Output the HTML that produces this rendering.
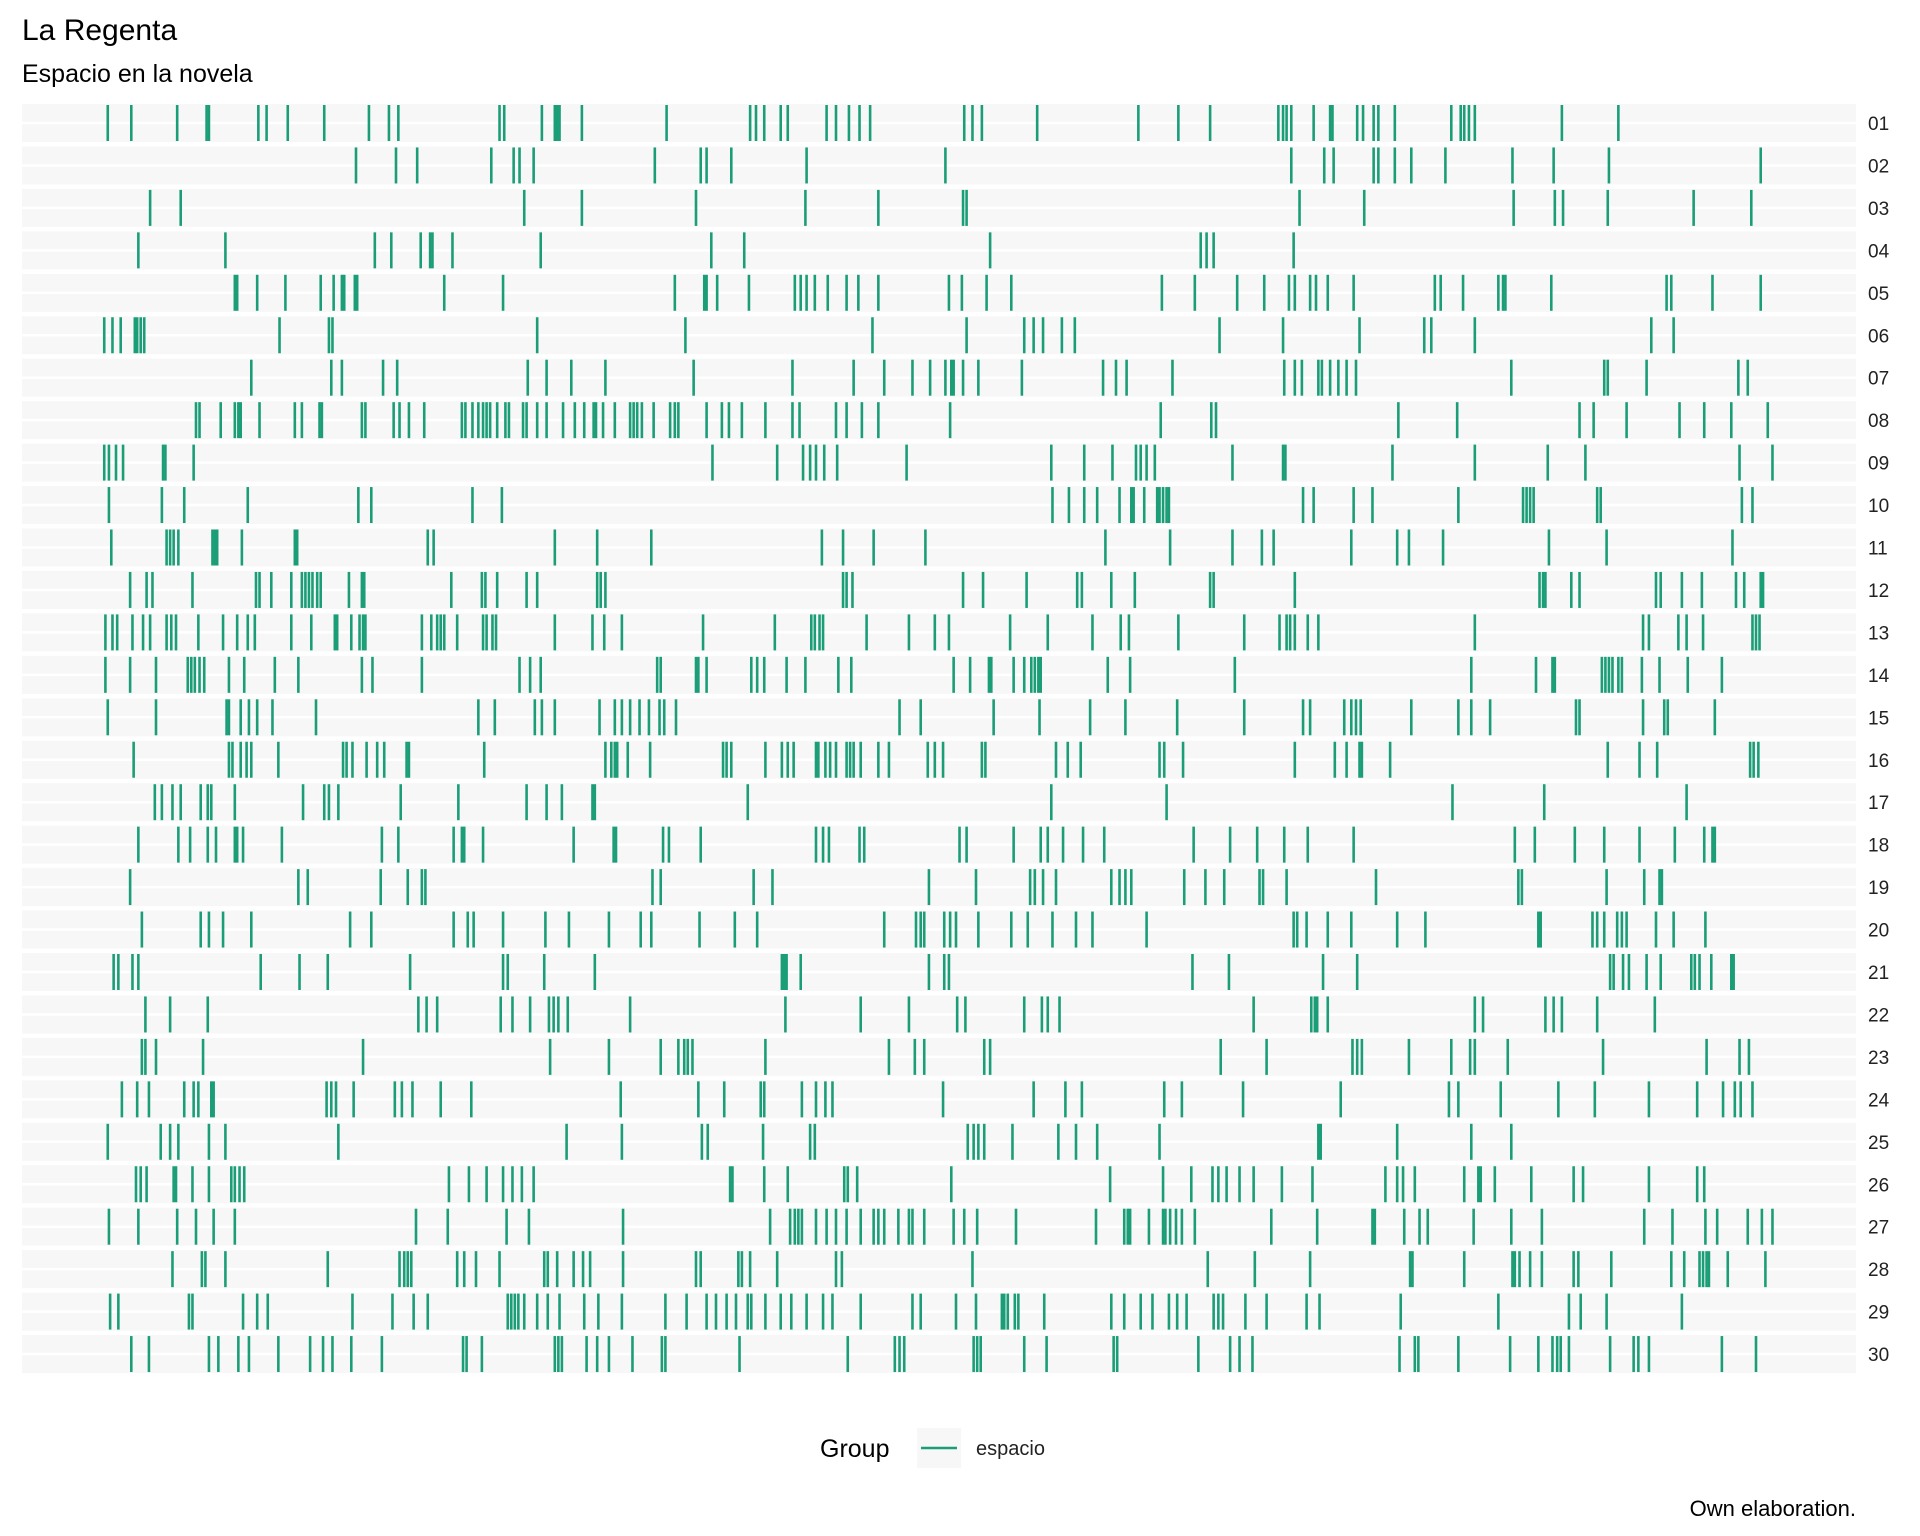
<!DOCTYPE html>
<html><head><meta charset="utf-8">
<style>
html,body{margin:0;padding:0;background:#fff;}
svg{display:block;font-family:"Liberation Sans",Arial,sans-serif;}
</style></head>
<body>
<svg id="chart" width="1920" height="1536" viewBox="0 0 1920 1536">
<text x="22" y="40" font-size="30" fill="#000">La Regenta</text>
<text x="22" y="82" font-size="25" fill="#000">Espacio en la novela</text>
<g id="rows"></g>
<g>
<text x="820" y="1457" font-size="25" fill="#000">Group</text>
<rect x="917" y="1428" width="44" height="40" fill="#f7f7f7"></rect>
<line x1="921" y1="1448" x2="957" y2="1448" stroke="#1b9e77" stroke-width="2.5"></line>
<text x="976" y="1455" font-size="20" fill="#222">espacio</text>
</g>
<text x="1856" y="1516" font-size="22" fill="#000" text-anchor="end">Own elaboration.</text>
</svg>
<script>
const chapters = ["01","02","03","04","05","06","07","08","09","10","11","12","13","14","15","16","17","18","19","20","21","22","23","24","25","26","27","28","29","30"];
const c01=[78,98,137,162,164,206,213,231,262,300,317,325,411,415,447,458,460,462,481,553,624,629,636,650,656,689,697,708,717,726,806,813,821,868,954,988,1015,1073,1077,1080,1084,1103,1117,1119,1140,1145,1154,1158,1172,1220,1228,1231,1235,1240,1314,1362];
const c02=[289,323,341,404,423,428,440,543,582,587,608,672,790,1084,1112,1120,1154,1158,1172,1186,1215,1272,1307,1354,1483];
const c03=[114,140,432,481,578,671,733,805,808,1091,1146,1273,1308,1315,1353,1426,1475];
const c04=[104,178,305,319,344,352,354,371,446,591,619,828,1007,1012,1018,1086];
const c05=[186,188,205,229,259,270,277,279,288,290,364,414,560,585,587,596,623,662,667,672,679,690,706,716,733,793,804,825,846,974,1002,1038,1061,1082,1087,1100,1105,1115,1137,1206,1211,1230,1260,1264,1266,1305,1403,1407,1442,1483];
const c06=[75,82,89,101,103,106,109,224,266,269,443,569,728,808,857,865,873,889,900,1023,1077,1142,1197,1203,1240,1390,1409];
const c07=[200,268,277,312,324,435,451,472,501,576,660,712,738,762,777,790,795,797,805,818,855,924,935,944,983,1078,1087,1093,1107,1110,1117,1124,1131,1139,1271,1350,1353,1386,1464,1472];
const c08=[153,156,174,186,189,191,207,237,243,258,260,294,297,321,326,334,347,379,382,388,393,397,400,403,409,416,419,431,434,443,451,465,475,483,491,493,499,509,522,525,528,532,542,556,560,563,587,600,606,617,637,660,666,697,706,719,733,794,973,1016,1020,1175,1225,1329,1341,1369,1414,1435,1458,1489];
const c09=[75,79,85,91,125,127,151,592,647,669,675,680,687,698,757,880,908,932,952,956,961,968,1034,1077,1079,1170,1240,1302,1334,1465,1493];
const c10=[79,124,143,197,291,302,388,413,881,895,908,919,938,948,950,959,970,972,975,978,980,1094,1103,1137,1153,1226,1281,1284,1287,1290,1344,1347,1467,1476];
const c11=[81,128,131,134,138,167,169,171,192,237,239,350,355,458,494,540,685,703,729,773,926,981,1034,1059,1069,1135,1174,1184,1213,1303,1352,1459];
const c12=[97,111,116,150,204,207,217,234,243,246,249,252,256,259,283,294,296,370,396,399,409,434,443,494,497,501,703,706,711,805,822,859,902,906,931,951,1015,1018,1087,1295,1298,1300,1322,1329,1394,1398,1416,1433,1462,1469,1483,1485];
const c13=[76,82,86,99,108,114,128,132,136,155,176,188,197,203,234,251,271,273,285,292,295,297,345,353,358,361,364,375,397,400,405,408,458,490,500,515,584,645,676,679,683,686,723,759,781,793,845,877,915,939,946,988,1044,1074,1080,1083,1087,1098,1107,1240,1383,1388,1413,1420,1434,1476,1479,1482];
const c14=[76,97,119,146,149,152,156,160,181,194,220,240,294,303,345,428,437,446,545,548,578,580,587,625,630,636,655,671,699,710,797,811,827,829,848,857,863,866,869,871,928,947,1036,1237,1292,1306,1308,1348,1351,1354,1357,1362,1365,1382,1397,1421,1450];
const c15=[78,119,179,181,191,198,205,218,255,393,407,441,447,458,496,509,515,522,530,538,547,551,561,751,769,831,870,913,943,987,1044,1094,1100,1129,1135,1139,1143,1186,1226,1237,1253,1326,1329,1383,1401,1404,1444];
const c16=[100,181,184,191,196,200,223,278,281,286,298,307,313,332,334,398,501,506,509,511,520,539,601,604,608,637,651,656,661,680,682,688,692,697,706,709,712,718,733,742,775,781,788,821,824,884,894,905,972,976,992,1087,1121,1131,1142,1144,1168,1353,1380,1395,1474,1477,1481];
const c17=[118,124,133,140,157,163,166,186,244,262,266,274,327,376,434,451,464,490,492,622,880,978,1221,1299,1420];
const c18=[104,138,148,163,170,186,188,193,226,311,325,372,379,381,397,474,508,510,550,555,582,680,686,691,717,721,802,808,848,871,877,890,907,925,1001,1032,1055,1078,1098,1137,1274,1291,1325,1350,1380,1410,1435,1442,1444];
const c19=[97,240,248,310,333,345,348,541,548,627,643,776,816,862,866,873,884,931,938,943,948,993,1011,1027,1057,1060,1080,1156,1277,1280,1352,1384,1397,1399];
const c20=[107,157,164,176,200,284,302,372,384,389,414,450,470,504,531,540,581,611,630,738,765,769,772,789,794,799,818,846,860,881,901,915,961,1086,1089,1097,1115,1135,1174,1198,1294,1296,1340,1344,1350,1361,1365,1369,1394,1409,1436];
const c21=[83,87,99,104,208,241,265,335,414,418,449,492,651,653,655,667,776,789,793,1000,1031,1111,1140,1355,1358,1366,1371,1386,1398,1424,1427,1431,1441,1458,1460];
const c22=[110,131,163,342,349,358,412,422,437,453,457,461,469,522,654,718,759,800,807,857,872,877,887,1052,1101,1104,1106,1115,1240,1247,1300,1307,1314,1344,1393];
const c23=[107,110,119,159,295,454,504,548,563,568,571,575,637,742,764,772,823,828,1024,1063,1136,1140,1144,1184,1220,1236,1240,1268,1349,1437,1465,1473];
const c24=[90,103,113,143,151,155,166,168,264,268,272,287,322,328,337,361,387,514,580,602,633,636,668,680,688,694,788,865,892,906,976,991,1043,1126,1218,1226,1262,1311,1342,1388,1429,1451,1461,1466,1476];
const c25=[78,123,131,138,164,178,274,468,515,583,588,635,675,679,809,814,818,823,847,886,901,919,972,1107,1109,1174,1237,1271];
const c26=[102,106,111,134,136,150,164,183,186,190,194,368,385,400,414,422,430,440,607,609,636,656,704,707,715,795,930,975,999,1017,1022,1029,1040,1052,1076,1102,1164,1174,1179,1189,1231,1243,1245,1257,1288,1324,1332,1388,1429,1435];
const c27=[79,104,137,153,168,186,340,367,417,436,516,641,658,662,665,668,680,689,697,706,718,729,733,738,750,759,762,772,797,806,817,850,918,942,945,947,963,975,977,981,986,991,1002,1067,1106,1153,1155,1180,1193,1200,1239,1271,1297,1384,1408,1436,1446,1472,1484,1493];
const c28=[133,158,161,178,265,326,330,333,336,375,381,391,411,449,452,460,474,482,488,516,578,582,614,617,624,647,697,702,813,1013,1053,1100,1185,1187,1231,1272,1274,1278,1287,1297,1324,1328,1356,1407,1418,1431,1434,1437,1439,1455,1487];
const c29=[80,87,147,150,193,205,214,286,320,338,350,418,421,424,427,432,443,452,462,483,495,515,552,570,587,595,604,612,622,625,637,650,659,672,686,694,718,762,769,799,816,838,840,843,849,852,874,931,942,956,966,980,987,995,1018,1022,1026,1045,1063,1097,1108,1177,1260,1320,1330,1352,1416];
const c30=[98,113,164,172,189,198,223,250,261,269,285,311,380,383,396,458,461,464,485,494,504,524,549,552,615,707,747,751,755,814,817,820,857,876,933,936,1005,1032,1040,1051,1176,1189,1192,1226,1270,1294,1306,1310,1313,1320,1355,1375,1379,1388,1450,1479];
const series=[c01,c02,c03,c04,c05,c06,c07,c08,c09,c10,c11,c12,c13,c14,c15,c16,c17,c18,c19,c20,c21,c22,c23,c24,c25,c26,c27,c28,c29,c30];

const NS="http://www.w3.org/2000/svg";
const X0=16,X1=1856,D0=0,D1=1564,BGX=22;
function xScale(v){return X0+(v-D0)/(D1-D0)*(X1-X0);}
const ROW0=104,PITCH=42.45,RH=38;
function yScale(i){return ROW0+i*PITCH;}
const g=document.getElementById('rows');
chapters.forEach((ch,i)=>{
  const y=yScale(i);
  const row=document.createElementNS(NS,'g');
  
  
  const bg=document.createElementNS(NS,'rect');
  bg.setAttribute('x',BGX);bg.setAttribute('y',y);bg.setAttribute('width',X1-BGX);bg.setAttribute('height',RH);
  bg.setAttribute('fill','#f7f7f7');
  
  
  row.appendChild(bg);
  const gl=document.createElementNS(NS,'line');
  gl.setAttribute('x1',BGX);gl.setAttribute('x2',X1);gl.setAttribute('y1',y+RH/2);gl.setAttribute('y2',y+RH/2);
  gl.setAttribute('stroke','#ffffff');gl.setAttribute('stroke-width','2.5');
  
  
  row.appendChild(gl);
  series[i].forEach(v=>{
    const t=document.createElementNS(NS,'line');
    const x=xScale(v);
    t.setAttribute('x1',x);t.setAttribute('x2',x);t.setAttribute('y1',y+1);t.setAttribute('y2',y+RH-1);
    t.setAttribute('stroke','#1b9e77');t.setAttribute('stroke-width','2.6');
    
    
    row.appendChild(t);
  });
  const lb=document.createElementNS(NS,'text');
  lb.setAttribute('x',1868);lb.setAttribute('y',y+RH/2+7);
  lb.setAttribute('font-size','19');lb.setAttribute('fill','#222');
  lb.textContent=ch;
  
  
  row.appendChild(lb);
  g.appendChild(row);
});
</script>
</body></html>
